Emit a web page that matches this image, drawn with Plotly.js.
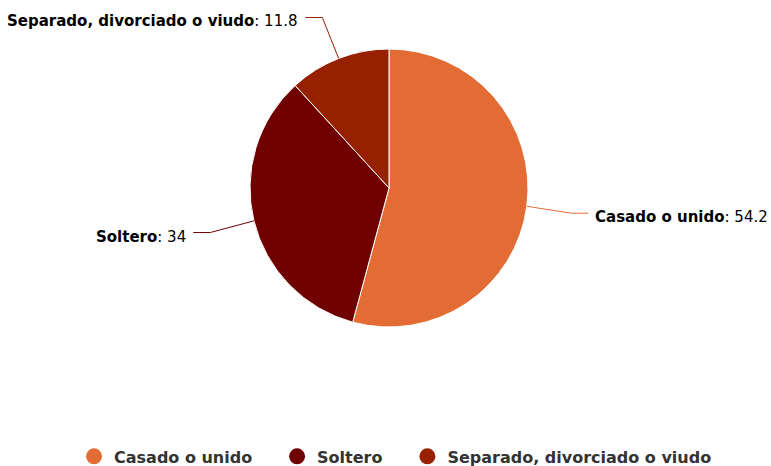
<!DOCTYPE html>
<html>
<head>
<meta charset="utf-8">
<script src="https://cdn.plot.ly/plotly-3.0.1.min.js"></script>
<style>html,body{margin:0;padding:0;background:#fff;}#chart{width:771px;height:466px;}</style>
</head>
<body>
<div id="chart"></div>
<script>
// Data
const categories = ["Casado o unido", "Soltero", "Separado, divorciado o viudo"];
const values = [54.2, 34, 11.8];
const colors = ["#E36C35", "#700000", "#962000"];

// Layout constants (pixels)
const W = 771, H = 466;
const CX = 389, CY = 188, R = 139;
const LABEL_DIST = 45, TEXT_PAD = 22, TEXT_DY = 5, LINE_DY = 1;

const px = x => x / W;
const py = y => 1 - y / H;

const traces = [{
  type: "pie",
  labels: categories,
  values: values,
  sort: false,
  direction: "clockwise",
  rotation: 0,
  textinfo: "none",
  hoverinfo: "skip",
  showlegend: false,
  marker: { colors: colors, line: { color: "#ffffff", width: 1 } },
  domain: { x: [px(CX - R), px(CX + R)], y: [py(CY + R), py(CY - R)] }
}];

// Legend entries with circle symbols
const PAD = "\u00a0\u00a0\u00a0\u2009";
categories.forEach((c, i) => {
  traces.push({
    type: "scatter", mode: "markers", x: [null], y: [null],
    name: i < categories.length - 1 ? c + PAD : c,
    marker: { color: colors[i], size: 16, symbol: "circle" },
    hoverinfo: "skip", showlegend: true
  });
});

// Data labels and connectors computed from slice angles
const total = values.reduce((a, b) => a + b, 0);
const annotations = [], shapes = [];
let cum = 0;
values.forEach((v, i) => {
  const mid = (cum + v / 2) / total * 2 * Math.PI;
  cum += v;
  const s = Math.sin(mid), c = Math.cos(mid);
  const ex = CX + R * s, ey = CY - R * c;
  const ox = CX + (R + LABEL_DIST) * s, oy = CY - (R + LABEL_DIST) * c;
  const right = s >= 0;
  const tx = ox + (right ? TEXT_PAD : -TEXT_PAD);
  const lx = tx + (right ? -5 : 5);
  shapes.push({
    type: "path", xref: "paper", yref: "paper",
    path: `M ${px(ex)} ${py(ey)} L ${px(ox)} ${py(oy + LINE_DY)} L ${px(lx)} ${py(oy + LINE_DY)}`,
    line: { color: colors[i], width: 1 }
  });
  annotations.push({
    xref: "paper", yref: "paper", x: px(tx), y: py(oy + TEXT_DY),
    xanchor: right ? "left" : "right", yanchor: "middle",
    text: `<b>${categories[i]}</b>: ${v}`, showarrow: false,
    font: { family: "DejaVu Sans", size: 15, color: "#000000" }
  });
});

const layout = {
  width: W, height: H,
  margin: { l: 0, r: 0, t: 0, b: 0, autoexpand: false },
  paper_bgcolor: "#ffffff", plot_bgcolor: "#ffffff",
  xaxis: { visible: false }, yaxis: { visible: false },
  showlegend: true,
  legend: {
    orientation: "h", x: 0.513, xanchor: "center", y: -0.016, yanchor: "bottom",
    font: { family: "DejaVu Sans", size: 16, color: "#333333", weight: "bold" },
    itemclick: false, itemdoubleclick: false
  },
  shapes: shapes,
  annotations: annotations
};

Plotly.newPlot("chart", traces, layout, { staticPlot: true, displayModeBar: false });
</script>
</body>
</html>
